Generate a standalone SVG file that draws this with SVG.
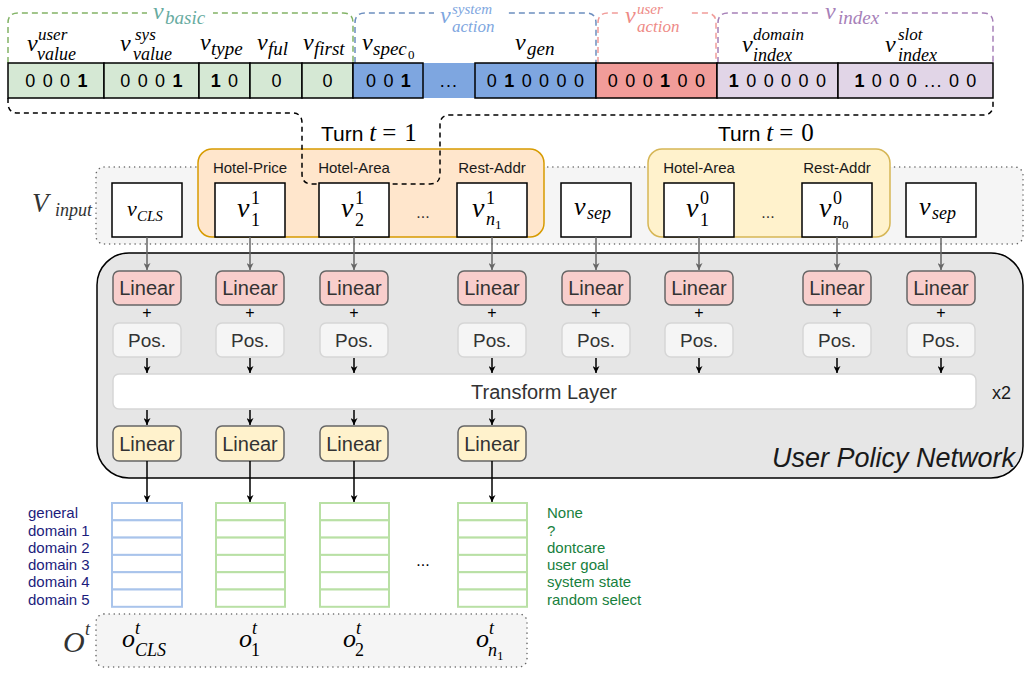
<svg xmlns="http://www.w3.org/2000/svg" width="1025" height="675" viewBox="0 0 1025 675">
<style>
.sans{font-family:"Liberation Sans",Arial,sans-serif}
.m{font-family:"Liberation Serif","Times New Roman",serif;font-style:italic}
.mr{font-family:"Liberation Serif","Times New Roman",serif}
.bits{font-family:"Liberation Sans",Arial,sans-serif;font-size:18px;letter-spacing:1.2px;text-anchor:middle;fill:#000}
.cell{stroke:#000;stroke-width:1.5}
.lin{fill:#f8cecc;stroke:#666;stroke-width:1.5}
.liny{fill:#fff2cc;stroke:#666;stroke-width:1.5}
.pos{fill:#f5f5f5;stroke:#d6d6d6;stroke-width:1.5}
.bt{font-family:"Liberation Sans",Arial,sans-serif;font-size:20px;fill:#333;text-anchor:middle}
.vb{fill:#fff;stroke:#000;stroke-width:1.5}
.hdr{font-family:"Liberation Sans",Arial,sans-serif;font-size:15px;fill:#1a1a1a;text-anchor:middle}
.dot{fill:#f5f5f5;stroke:#666;stroke-width:1.5;stroke-dasharray:0.1 5;stroke-linecap:round}
.ga{stroke:#666;stroke-width:1.5;fill:none;marker-end:url(#ag)}
.ba{stroke:#000;stroke-width:1.5;fill:none;marker-end:url(#ab)}
.oc{fill:#fff;stroke-width:2}
.lab{font-family:"Liberation Sans",Arial,sans-serif;font-size:15px}
</style>
<defs>
<marker id="ab" viewBox="0 0 10 10" refX="10" refY="5" markerWidth="7" markerHeight="7" markerUnits="userSpaceOnUse" orient="auto"><path d="M0,0 L10,5 L0,10 L3,5 z" fill="#000"/></marker>
<marker id="ag" viewBox="0 0 10 10" refX="10" refY="5" markerWidth="7" markerHeight="7" markerUnits="userSpaceOnUse" orient="auto"><path d="M0,0 L10,5 L0,10 L3,5 z" fill="#666"/></marker>
</defs>
<rect width="1025" height="675" fill="#fff"/>

<!-- group brackets -->
<g id="brackets" fill="none" stroke-width="1.5" stroke-dasharray="6 4">
<path d="M8 63 L8 23 Q8 13 18 13 L343 13 Q353 13 353 23 L353 63" stroke="#82b366"/>
<path d="M355 63 L355 23 Q355 13 365 13 L586 13 Q596 13 596 23 L596 63" stroke="#6c8ebf"/>
<path d="M598 63 L598 23 Q598 13 608 13 L706 13 Q716 13 716 23 L716 63" stroke="#f19c99"/>
<path d="M718 63 L718 23 Q718 13 728 13 L983 13 Q993 13 993 23 L993 63" stroke="#a680b8"/>
</g>
<g id="group-labels">
<rect x="147" y="0" width="66" height="27" fill="#fff"/>
<rect x="434" y="0" width="74" height="33" fill="#fff"/>
<rect x="619" y="0" width="70" height="33" fill="#fff"/>
<rect x="819" y="0" width="66" height="27" fill="#fff"/>
<g fill="#67ab9f"><text class="m" x="153" y="19" font-size="24">v</text><text class="m" x="165" y="24" font-size="19">basic</text></g>
<g fill="#7ea6e0"><text class="m" x="440" y="23" font-size="24">v</text><text class="m" x="452" y="14" font-size="15">system</text><text class="m" x="452" y="32" font-size="17">action</text></g>
<g fill="#ee8a86"><text class="m" x="625" y="23" font-size="24">v</text><text class="m" x="637" y="14" font-size="15">user</text><text class="m" x="637" y="32" font-size="17">action</text></g>
<g fill="#a680b8"><text class="m" x="825" y="19" font-size="24">v</text><text class="m" x="838" y="24" font-size="19">index</text></g>
</g>

<!-- field labels -->
<g id="field-labels" fill="#000">
<text class="m" x="27" y="51" font-size="24">v</text><text class="m" x="38" y="40" font-size="17">user</text><text class="m" x="37" y="60" font-size="18">value</text>
<text class="m" x="120" y="51" font-size="24">v</text><text class="m" x="135" y="40" font-size="17">sys</text><text class="m" x="133" y="60" font-size="18">value</text>
<text class="m" x="200" y="50" font-size="24">v</text><text class="m" x="211" y="55" font-size="19">type</text>
<text class="m" x="257" y="50" font-size="24">v</text><text class="m" x="268" y="55" font-size="19">ful</text>
<text class="m" x="303" y="50" font-size="24">v</text><text class="m" x="314" y="55" font-size="19">first</text>
<text class="m" x="362" y="50" font-size="24">v</text><text class="m" x="373" y="55" font-size="19">spec</text><text class="mr" x="408" y="59" font-size="13">0</text>
<text class="m" x="515" y="50" font-size="24">v</text><text class="m" x="527" y="55" font-size="19">gen</text>
<text class="m" x="742" y="52" font-size="24">v</text><text class="m" x="753" y="40" font-size="17">domain</text><text class="m" x="753" y="61" font-size="18">index</text>
<text class="m" x="885" y="52" font-size="24">v</text><text class="m" x="898" y="40" font-size="17">slot</text><text class="m" x="898" y="61" font-size="18">index</text>
</g>

<!-- bit vector -->
<g id="bit-vector">
<rect class="cell" x="8" y="63" width="96" height="35" fill="#d5e8d4"/>
<rect class="cell" x="104" y="63" width="95" height="35" fill="#d5e8d4"/>
<rect class="cell" x="199" y="63" width="51" height="35" fill="#d5e8d4"/>
<rect class="cell" x="250" y="63" width="52" height="35" fill="#d5e8d4"/>
<rect class="cell" x="302" y="63" width="51" height="35" fill="#d5e8d4"/>
<rect x="423" y="63" width="52" height="35" fill="#7ea6e0"/>
<rect class="cell" x="353" y="63" width="70" height="35" fill="#7ea6e0"/>
<rect class="cell" x="475" y="63" width="121" height="35" fill="#7ea6e0"/>
<rect class="cell" x="596" y="63" width="121" height="35" fill="#f19c99"/>
<rect class="cell" x="717" y="63" width="121" height="35" fill="#e1d5e7"/>
<rect class="cell" x="838" y="63" width="155" height="35" fill="#e1d5e7"/>
<text class="bits" x="57" y="87">0 0 0 <tspan font-weight="bold">1</tspan></text>
<text class="bits" x="152" y="87">0 0 0 <tspan font-weight="bold">1</tspan></text>
<text class="bits" x="225" y="87"><tspan font-weight="bold">1</tspan> 0</text>
<text class="bits" x="277" y="87">0</text>
<text class="bits" x="328" y="87">0</text>
<text class="bits" x="389" y="87">0 0 <tspan font-weight="bold">1</tspan></text>
<text class="bits" x="449" y="87">...</text>
<text class="bits" x="536" y="87">0 <tspan font-weight="bold">1</tspan> 0 0 0 0</text>
<text class="bits" x="657" y="87">0 0 0 <tspan font-weight="bold">1</tspan> 0 0</text>
<text class="bits" x="778" y="87"><tspan font-weight="bold">1</tspan> 0 0 0 0 0</text>
<text class="bits" x="916" y="87"><tspan font-weight="bold">1</tspan> 0 0 0 ... 0 0</text>
</g>

<!-- input region -->
<g id="input-region">
<rect class="dot" x="96" y="167" width="927" height="77" rx="8"/>
<text class="m" x="32" y="212" font-size="27" fill="#333">V</text><text class="m" x="55" y="216" font-size="18" fill="#333">input</text>
</g>
<g id="turn1">
<rect x="198" y="149" width="346" height="88" rx="14" fill="#ffe6cc" stroke="#d79b00" stroke-width="1.5"/>
<text class="hdr" x="250" y="173">Hotel-Price</text>
<text class="hdr" x="354" y="173">Hotel-Area</text>
<text class="hdr" x="492" y="173">Rest-Addr</text>
</g>
<g id="turn0">
<rect x="648" y="149" width="242" height="88" rx="14" fill="#fff2cc" stroke="#d6b656" stroke-width="1.5"/>
<text class="hdr" x="699" y="173">Hotel-Area</text>
<text class="hdr" x="837" y="173">Rest-Addr</text>
</g>
<g id="expand-bracket">
<path d="M8 98 L8 103 Q8 113 18 113 L292 113 Q302 113 302 123 L302 174 Q302 184 312 184 L430 184 Q440 184 440 174 L440 125 Q440 115 450 115 L983 115 Q993 115 993 105 L993 98" fill="none" stroke="#000" stroke-width="1.5" stroke-dasharray="5 4"/>
</g>
<g id="turn-labels" fill="#000">
<text x="321" y="141"><tspan class="sans" font-size="21">Turn </tspan><tspan class="m" font-size="25">t</tspan><tspan class="mr" font-size="25" dx="6">=</tspan><tspan class="mr" font-size="25" dx="8">1</tspan></text>
<text x="718" y="141"><tspan class="sans" font-size="21">Turn </tspan><tspan class="m" font-size="25">t</tspan><tspan class="mr" font-size="25" dx="6">=</tspan><tspan class="mr" font-size="25" dx="8">0</tspan></text>
</g>

<g id="v-cls"><rect class="vb" x="112" y="183" width="70" height="54"/><text class="m" x="127" y="216" font-size="22">v</text><text class="m" x="137" y="221" font-size="15">CLS</text></g>
<g id="v-1-1"><rect class="vb" x="215" y="183" width="70" height="54"/><text class="m" x="237" y="217" font-size="28">v</text><text class="mr" x="251" y="204" font-size="18">1</text><text class="mr" x="251" y="226" font-size="18">1</text></g>
<g id="v-2-1"><rect class="vb" x="319" y="183" width="70" height="54"/><text class="m" x="341" y="217" font-size="28">v</text><text class="mr" x="355" y="204" font-size="18">1</text><text class="mr" x="355" y="226" font-size="18">2</text></g>
<text x="423" y="218" font-size="16" fill="#333" text-anchor="middle" class="sans">...</text>
<g id="v-n1-1"><rect class="vb" x="457" y="183" width="70" height="54"/><text class="m" x="472" y="217" font-size="28">v</text><text class="mr" x="486" y="204" font-size="18">1</text><text class="m" x="486" y="225" font-size="18">n</text><text class="mr" x="495" y="229" font-size="13">1</text></g>
<g id="v-sep-1"><rect class="vb" x="561" y="183" width="70" height="54"/><text class="m" x="574" y="215" font-size="26">v</text><text class="m" x="587" y="219" font-size="18">sep</text></g>
<g id="v-1-0"><rect class="vb" x="664" y="183" width="70" height="54"/><text class="m" x="686" y="217" font-size="28">v</text><text class="mr" x="700" y="204" font-size="18">0</text><text class="mr" x="700" y="226" font-size="18">1</text></g>
<text x="768" y="218" font-size="16" fill="#333" text-anchor="middle" class="sans">...</text>
<g id="v-n0-0"><rect class="vb" x="802" y="183" width="70" height="54"/><text class="m" x="819" y="217" font-size="28">v</text><text class="mr" x="833" y="204" font-size="18">0</text><text class="m" x="833" y="225" font-size="18">n</text><text class="mr" x="842" y="229" font-size="13">0</text></g>
<g id="v-sep-2"><rect class="vb" x="906" y="183" width="70" height="54"/><text class="m" x="919" y="215" font-size="26">v</text><text class="m" x="932" y="219" font-size="18">sep</text></g>

<!-- network -->
<g id="user-policy-network">
<rect x="97" y="253" width="926" height="225" rx="32" fill="#e6e6e6" stroke="#000" stroke-width="1.5"/>
<text x="1015" y="467" text-anchor="end" font-size="27" font-style="italic" class="sans" fill="#1a1a1a">User Policy Network</text>
<text x="992" y="399" font-size="18" class="sans" fill="#1a1a1a">x2</text>
</g>
<g id="linear-in" class="bt">
<rect class="lin" x="113" y="271" width="68" height="34" rx="6"/>
<rect class="lin" x="216" y="271" width="68" height="34" rx="6"/>
<rect class="lin" x="320" y="271" width="68" height="34" rx="6"/>
<rect class="lin" x="458" y="271" width="68" height="34" rx="6"/>
<rect class="lin" x="562" y="271" width="68" height="34" rx="6"/>
<rect class="lin" x="665" y="271" width="68" height="34" rx="6"/>
<rect class="lin" x="803" y="271" width="68" height="34" rx="6"/>
<rect class="lin" x="907" y="271" width="68" height="34" rx="6"/>
<text x="147" y="295">Linear</text><text x="250" y="295">Linear</text><text x="354" y="295">Linear</text><text x="492" y="295">Linear</text>
<text x="596" y="295">Linear</text><text x="699" y="295">Linear</text><text x="837" y="295">Linear</text><text x="941" y="295">Linear</text>
</g>
<g id="plus" font-size="16" text-anchor="middle" fill="#000" class="sans">
<text x="147" y="318">+</text><text x="250" y="318">+</text><text x="354" y="318">+</text><text x="492" y="318">+</text>
<text x="596" y="318">+</text><text x="699" y="318">+</text><text x="837" y="318">+</text><text x="941" y="318">+</text>
</g>
<g id="pos-enc" class="bt">
<rect class="pos" x="113" y="323" width="68" height="34" rx="6"/>
<rect class="pos" x="216" y="323" width="68" height="34" rx="6"/>
<rect class="pos" x="320" y="323" width="68" height="34" rx="6"/>
<rect class="pos" x="458" y="323" width="68" height="34" rx="6"/>
<rect class="pos" x="562" y="323" width="68" height="34" rx="6"/>
<rect class="pos" x="665" y="323" width="68" height="34" rx="6"/>
<rect class="pos" x="803" y="323" width="68" height="34" rx="6"/>
<rect class="pos" x="907" y="323" width="68" height="34" rx="6"/>
<text x="147" y="347" font-size="19">Pos.</text><text x="250" y="347" font-size="19">Pos.</text><text x="354" y="347" font-size="19">Pos.</text><text x="492" y="347" font-size="19">Pos.</text>
<text x="596" y="347" font-size="19">Pos.</text><text x="699" y="347" font-size="19">Pos.</text><text x="837" y="347" font-size="19">Pos.</text><text x="941" y="347" font-size="19">Pos.</text>
</g>
<g id="transform-layer">
<rect x="113" y="374" width="863" height="35" rx="6" fill="#fff" stroke="#d6d6d6" stroke-width="1.5"/>
<text class="bt" x="544" y="399">Transform Layer</text>
</g>
<g id="linear-out" class="bt">
<rect class="liny" x="113" y="426" width="68" height="35" rx="6"/>
<rect class="liny" x="216" y="426" width="68" height="35" rx="6"/>
<rect class="liny" x="320" y="426" width="68" height="35" rx="6"/>
<rect class="liny" x="458" y="426" width="68" height="35" rx="6"/>
<text x="147" y="451">Linear</text><text x="250" y="451">Linear</text><text x="354" y="451">Linear</text><text x="492" y="451">Linear</text>
</g>

<!-- connectors -->
<g id="connectors">
<path class="ga" d="M147 237 V270"/><path class="ga" d="M250 237 V270"/><path class="ga" d="M354 237 V270"/><path class="ga" d="M492 237 V270"/>
<path class="ga" d="M596 237 V270"/><path class="ga" d="M699 237 V270"/><path class="ga" d="M837 237 V270"/><path class="ga" d="M941 237 V270"/>
<path class="ba" d="M147 358 V373"/><path class="ba" d="M250 358 V373"/><path class="ba" d="M354 358 V373"/><path class="ba" d="M492 358 V373"/>
<path class="ba" d="M596 358 V373"/><path class="ba" d="M699 358 V373"/><path class="ba" d="M837 358 V373"/><path class="ba" d="M941 358 V373"/>
<path class="ba" d="M147 410 V425"/><path class="ba" d="M250 410 V425"/><path class="ba" d="M354 410 V425"/><path class="ba" d="M492 410 V425"/>
<path class="ba" d="M147 461 V502"/><path class="ba" d="M250 461 V502"/><path class="ba" d="M354 461 V502"/><path class="ba" d="M492 461 V502"/>
</g>

<!-- outputs -->
<g id="out-cls" stroke="#a9c4eb">
<rect class="oc" x="112" y="503" width="70" height="17.3"/><rect class="oc" x="112" y="520.3" width="70" height="17.3" fill="#a9c4eb"/><rect class="oc" x="112" y="537.6" width="70" height="17.3"/><rect class="oc" x="112" y="554.9" width="70" height="17.3"/><rect class="oc" x="112" y="572.2" width="70" height="17.3"/><rect class="oc" x="112" y="589.5" width="70" height="17.3"/>
</g>
<g id="out-1" stroke="#b9e0a5">
<rect class="oc" x="216" y="503" width="69" height="17.3"/><rect class="oc" x="216" y="520.3" width="69" height="17.3"/><rect class="oc" x="216" y="537.6" width="69" height="17.3" fill="#b9e0a5"/><rect class="oc" x="216" y="554.9" width="69" height="17.3"/><rect class="oc" x="216" y="572.2" width="69" height="17.3"/><rect class="oc" x="216" y="589.5" width="69" height="17.3"/>
</g>
<g id="out-2" stroke="#b9e0a5">
<rect class="oc" x="320" y="503" width="69" height="17.3"/><rect class="oc" x="320" y="520.3" width="69" height="17.3"/><rect class="oc" x="320" y="537.6" width="69" height="17.3"/><rect class="oc" x="320" y="554.9" width="69" height="17.3" fill="#97d077"/><rect class="oc" x="320" y="572.2" width="69" height="17.3"/><rect class="oc" x="320" y="589.5" width="69" height="17.3"/>
</g>
<text x="423" y="566" font-size="16" fill="#000" text-anchor="middle" class="sans">...</text>
<g id="out-n1" stroke="#b9e0a5">
<rect class="oc" x="458" y="503" width="69" height="17.3"/><rect class="oc" x="458" y="520.3" width="69" height="17.3" fill="#97d077"/><rect class="oc" x="458" y="537.6" width="69" height="17.3"/><rect class="oc" x="458" y="554.9" width="69" height="17.3"/><rect class="oc" x="458" y="572.2" width="69" height="17.3"/><rect class="oc" x="458" y="589.5" width="69" height="17.3"/>
</g>
<g id="domain-labels" class="lab" fill="#1c1c7c">
<text x="28" y="518">general</text><text x="28" y="535.5">domain 1</text><text x="28" y="552.5">domain 2</text><text x="28" y="570">domain 3</text><text x="28" y="587">domain 4</text><text x="28" y="604.5">domain 5</text>
</g>
<g id="value-labels" class="lab" fill="#17803d">
<text x="547" y="518">None</text><text x="547" y="535.5">?</text><text x="547" y="552.5">dontcare</text><text x="547" y="570">user goal</text><text x="547" y="587">system state</text><text x="547" y="604.5">random select</text>
</g>
<g id="output-region">
<rect class="dot" x="96" y="614" width="431" height="53" rx="8"/>
<text class="m" x="63" y="652" font-size="30" fill="#333">O</text><text class="m" x="85" y="635" font-size="18" fill="#333">t</text>
<text class="m" x="122" y="647" font-size="26">o</text><text class="m" x="135" y="634" font-size="18">t</text><text class="m" x="135" y="656" font-size="18">CLS</text>
<text class="m" x="239" y="647" font-size="26">o</text><text class="m" x="252" y="634" font-size="18">t</text><text class="mr" x="251" y="656" font-size="18">1</text>
<text class="m" x="343" y="647" font-size="26">o</text><text class="m" x="356" y="634" font-size="18">t</text><text class="mr" x="355" y="656" font-size="18">2</text>
<text class="m" x="476" y="647" font-size="26">o</text><text class="m" x="489" y="634" font-size="18">t</text><text class="m" x="488" y="656" font-size="18">n</text><text class="mr" x="497" y="660" font-size="13">1</text>
</g>
</svg>
